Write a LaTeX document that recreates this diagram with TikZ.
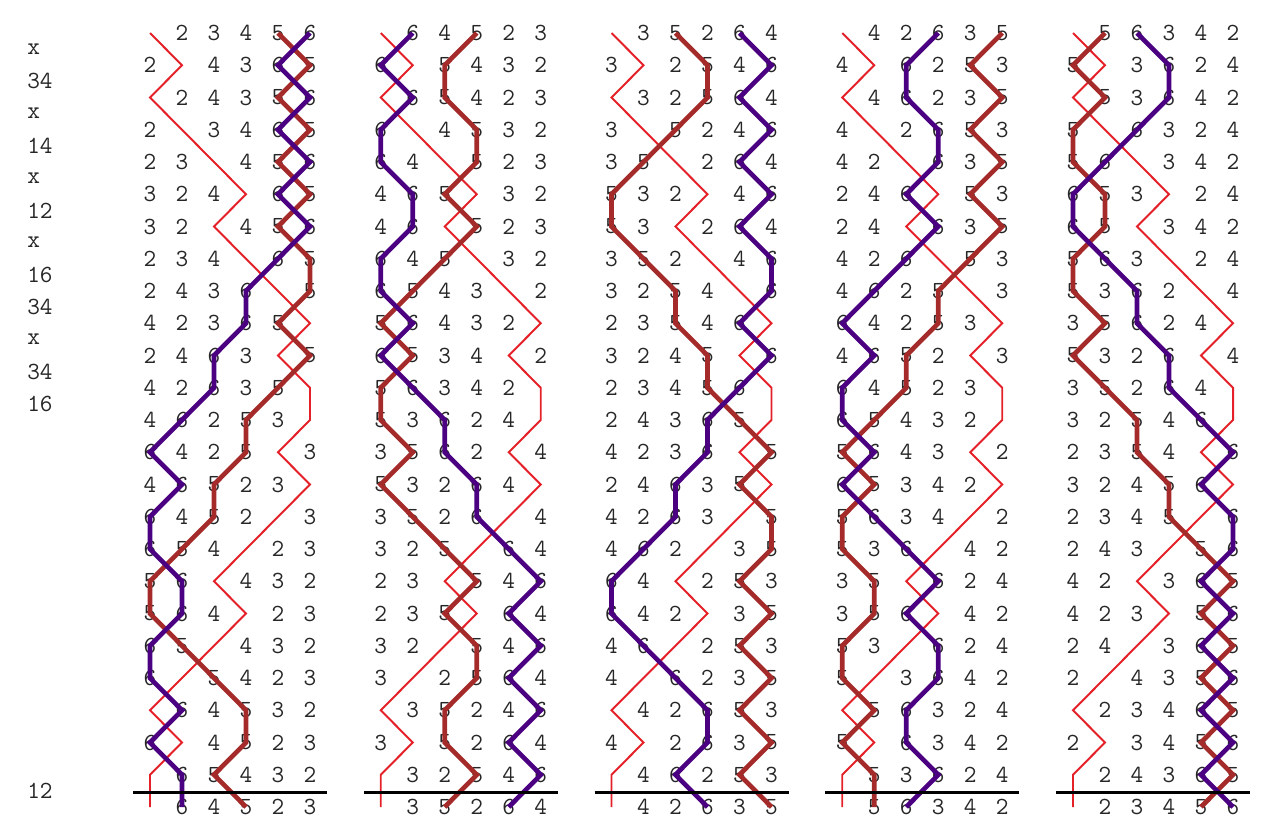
\documentclass[tikz,border=0pt]{standalone}
\usepackage{tikz}
\definecolor{tred}{RGB}{228,32,40}
\definecolor{sixpurple}{RGB}{75,0,130}
\definecolor{fivebrown}{RGB}{165,42,42}
\tikzset{num/.style = {font = \ttfamily\fontsize{17.5}{17.5}\selectfont, inner sep = 0, text = black!85}}
\tikzset{pn/.style = {num, anchor = west}}
\tikzset{treble/.style = {tred, line width = 1.4pt}}
\tikzset{five/.style = {fivebrown, line width = 3.3pt}}
\tikzset{six/.style = {sixpurple, line width = 3.3pt}}
\tikzset{leadend/.style = {black, line width = 1.5pt}}

\begin{document}
\begin{tikzpicture}[x = 0.025cm, y = -0.025cm]
  \useasboundingbox (0, 0) rectangle (1262, 838);

  \foreach \pn [count=\k] in {x,34,x,14,x,12,x,16,34,x,34,16}
    \node [pn] (pn\k) at (27, {33 + (\k - 0.5) * 32.25}) {\pn};
  \node [pn] (pnle) at (27, 791) {12};

  \foreach \lh [count=\ld from 0] in {{1,2,3,4,5,6},{1,6,4,5,2,3},{1,3,5,2,6,4},{1,4,2,6,3,5},{1,5,6,3,4,2}} {
    \foreach \rowseq [count=\rw from 0] in {{1,2,3,4,5,6},{2,1,4,3,6,5},{1,2,4,3,5,6},{2,1,3,4,6,5},
        {2,3,1,4,5,6},{3,2,4,1,6,5},{3,2,1,4,5,6},{2,3,4,1,6,5},{2,4,3,6,1,5},{4,2,3,6,5,1},
        {2,4,6,3,1,5},{4,2,6,3,5,1},{4,6,2,5,3,1},{6,4,2,5,1,3},{4,6,5,2,3,1},{6,4,5,2,1,3},
        {6,5,4,1,2,3},{5,6,1,4,3,2},{5,6,4,1,2,3},{6,5,1,4,3,2},{6,1,5,4,2,3},{1,6,4,5,3,2},
        {6,1,4,5,2,3},{1,6,5,4,3,2},{1,6,4,5,2,3}} {
      \foreach \orig [count=\ps] in \rowseq {
        \pgfmathtruncatemacro\bell{{\lh}[\orig - 1]}
        \coordinate (L\ld-\bell-\rw) at ({150 + 230.75 * \ld + 32 * (\ps - 1)}, {33 + 32.25 * \rw});
        \ifnum\bell>1
          \node [num] (n\ld-\rw-\ps) at (L\ld-\bell-\rw) {\bell};
        \fi
      }
    }
    \draw [treble] (L\ld-1-0) \foreach \rw in {1,...,24} {-- (L\ld-1-\rw)};
    \draw [five] (L\ld-5-0) \foreach \rw in {1,...,24} {-- (L\ld-5-\rw)};
    \draw [six] (L\ld-6-0) \foreach \rw in {1,...,24} {-- (L\ld-6-\rw)};

    \coordinate (le\ld-w) at ({133 + 230.75 * \ld}, 792.5);
    \coordinate (le\ld-e) at ({327 + 230.75 * \ld}, 792.5);
    \draw [leadend] (le\ld-w) -- (le\ld-e);
  }
\end{tikzpicture}
\end{document}
